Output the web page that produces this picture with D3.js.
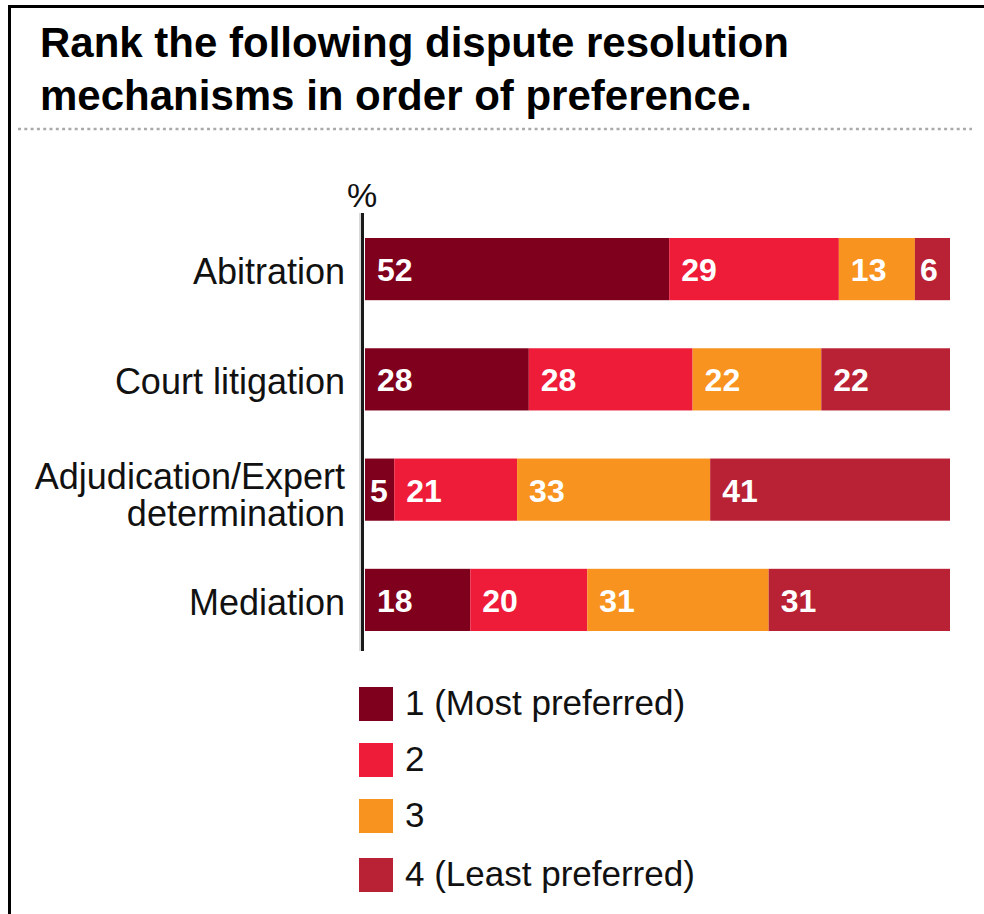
<!DOCTYPE html>
<html><head><meta charset="utf-8">
<script src="https://cdn.jsdelivr.net/npm/d3@7"></script>
<style>body{margin:0;background:#fff;} svg{display:block;font-family:"Liberation Sans",Arial,sans-serif;}</style>
</head><body>
<script>
const categories = ["Abitration", "Court litigation", "Adjudication/Expert\ndetermination", "Mediation"];
const seriesNames = ["1 (Most preferred)", "2", "3", "4 (Least preferred)"];
const rank1 = [52, 28, 5, 18];
const rank2 = [29, 28, 21, 20];
const rank3 = [13, 22, 33, 31];
const rank4 = [6, 22, 41, 31];
const colors = ["#7f001c", "#ee1c39", "#f7931e", "#b92235"];
const titleLines = ["Rank the following dispute resolution", "mechanisms in order of preference."];

const W = 984, H = 914;
const svg = d3.select("body").append("svg").attr("width", W).attr("height", H);

// frame
svg.append("line").attr("x1", 8).attr("x2", W).attr("y1", 6.5).attr("y2", 6.5).attr("stroke", "#000").attr("stroke-width", 3);
svg.append("line").attr("x1", 9.5).attr("x2", 9.5).attr("y1", 5).attr("y2", H).attr("stroke", "#000").attr("stroke-width", 3);

// title
svg.append("text").attr("font-weight", "bold").attr("font-size", 42).attr("fill", "#000")
  .selectAll("tspan").data(titleLines).join("tspan").attr("x", 40).attr("y", (d, i) => 57 + i * 53).text(d => d);

// dotted rule
svg.append("line").attr("x1", 18).attr("x2", 972).attr("y1", 129).attr("y2", 129)
  .attr("stroke", "#aaa").attr("stroke-width", 2.5).attr("stroke-dasharray", "3,3.3");

const data = categories.map((c, i) => ({cat: c, vals: [rank1[i], rank2[i], rank3[i], rank4[i]]}));
const stack = d3.stack().keys([0, 1, 2, 3]).value((d, k) => d.vals[k]);
const series = stack(data);

const x = d3.scaleLinear().domain([0, 100]).range([365, 950]);
const y = d3.scaleBand().domain(categories).range([238, 631]).paddingInner(0.436).paddingOuter(0);

const g = svg.append("g");
series.forEach((s, k) => {
  g.selectAll(null).data(s).join("rect")
    .attr("x", d => x(d[0])).attr("width", d => x(d[1]) - x(d[0]))
    .attr("y", d => y(d.data.cat)).attr("height", y.bandwidth())
    .attr("fill", colors[k]);
  g.selectAll(null).data(s).join("text")
    .attr("x", d => x(d[0]) + (d[1] - d[0] < 8 ? 5 : 12))
    .attr("y", d => y(d.data.cat) + y.bandwidth() / 2 + 12)
    .attr("fill", "#fff").attr("font-weight", "bold").attr("font-size", 32)
    .text(d => d.data.vals[k]);
});

// y axis line
svg.append("line").attr("x1", 360).attr("x2", 360).attr("y1", 213).attr("y2", 651).attr("stroke", "#ccc").attr("stroke-width", 1.5);
svg.append("line").attr("x1", 362.5).attr("x2", 362.5).attr("y1", 213).attr("y2", 651).attr("stroke", "#1a1a1a").attr("stroke-width", 3);
svg.append("text").attr("x", 362).attr("y", 207).attr("text-anchor", "middle").attr("font-size", 34).attr("fill", "#111").text("%");

// category labels
categories.forEach(c => {
  const lines = c.split("\n");
  const cy = y(c) + y.bandwidth() / 2;
  const t = svg.append("text").attr("text-anchor", "end").attr("font-size", 36).attr("fill", "#111");
  lines.forEach((l, i) => {
    t.append("tspan").attr("x", 345).attr("y", cy + 15 + (i - (lines.length - 1) / 2) * 37 + (lines.length - 1) * 2.5).text(l);
  });
});

// legend
const leg = svg.append("g");
const legY = [687, 743, 799, 858];
seriesNames.forEach((n, i) => {
  leg.append("rect").attr("x", 359).attr("y", legY[i]).attr("width", 34).attr("height", 34).attr("fill", colors[i]);
  leg.append("text").attr("x", 405).attr("y", legY[i] + 28).attr("font-size", 35).attr("fill", "#111").text(n);
});
</script>
</body></html>
